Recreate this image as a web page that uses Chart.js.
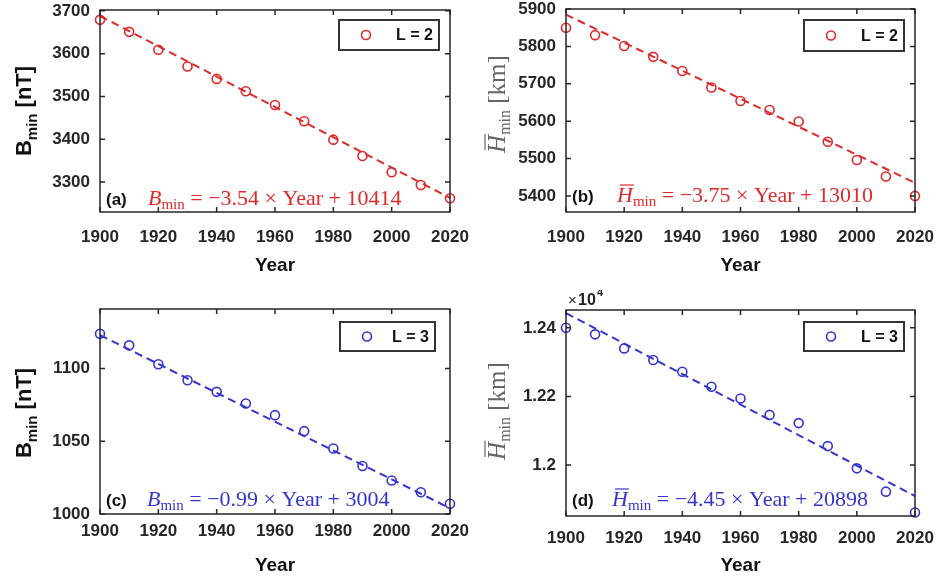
<!DOCTYPE html>
<html>
<head>
<meta charset="utf-8">
<script src="https://cdn.jsdelivr.net/npm/chart.js@4.4.1/dist/chart.umd.min.js"></script>
<style>
  body { margin: 0; background: #fff; }
  #wrap { position: relative; width: 941px; height: 581px; overflow: hidden; }
  canvas { position: absolute; }
</style>
</head>
<body>
<div id="wrap">
  <canvas id="chartA" width="470" height="290" style="left:0;top:0"></canvas>
  <canvas id="chartB" width="471" height="290" style="left:470px;top:0"></canvas>
  <canvas id="chartC" width="470" height="291" style="left:0;top:290px"></canvas>
  <canvas id="chartD" width="471" height="291" style="left:470px;top:290px"></canvas>
</div>
<script>
// data
const years = [1900, 1910, 1920, 1930, 1940, 1950, 1960, 1970, 1980, 1990, 2000, 2010, 2020];
const bminL2 = [3679, 3651, 3609, 3570, 3541, 3512, 3480, 3442, 3399, 3361, 3323, 3293, 3262];
const hminL2 = [5850, 5830, 5801, 5772, 5734, 5690, 5654, 5630, 5599, 5545, 5496, 5452, 5400];
const bminL3 = [1124, 1116, 1103, 1092, 1084, 1076, 1068, 1057, 1045, 1033, 1023, 1015, 1007];
const hminL3 = [12400, 12381, 12340, 12306, 12272, 12228, 12194, 12146, 12122, 12055, 11990, 11922, 11861];

// linear fits (end points)
const fitYears = [1900, 2020];
const fitBminL2 = [3688, 3263];
const fitHminL2 = [5885, 5435];
const fitBminL3 = [1123, 1004];
const fitHminL3 = [12443, 11909];

const xTicks = [1900, 1920, 1940, 1960, 1980, 2000, 2020];
const ticksA = [3300, 3400, 3500, 3600, 3700];
const ticksB = [5400, 5500, 5600, 5700, 5800, 5900];
const ticksC = [1000, 1050, 1100];
const ticksD = [12000, 12200, 12400];

const RED = '#e02828';
const BLUE = '#3434d0';
const INK = '#262626';
const SANS = '"Liberation Sans", Arial, sans-serif';
const SERIF = '"Liberation Serif", "Times New Roman", serif';

function drawRich(ctx, parts, x, y, align) {
  let w = 0;
  parts.forEach(p => { ctx.font = p.f; p.w = ctx.measureText(p.t).width; w += p.w; });
  let cx = align === 'center' ? x - w / 2 : x;
  ctx.textAlign = 'left';
  ctx.textBaseline = 'alphabetic';
  parts.forEach(p => {
    ctx.font = p.f;
    ctx.fillText(p.t, cx, y + (p.dy || 0));
    if (p.bar) {
      ctx.beginPath();
      ctx.moveTo(cx + 3, y - p.bar);
      ctx.lineTo(cx + p.w + 1, y - p.bar);
      ctx.stroke();
    }
    cx += p.w;
  });
}

function bTitle() {
  return [
    { t: 'B', f: 'bold 22px ' + SANS },
    { t: 'min', f: 'bold 15px ' + SANS, dy: 6 },
    { t: ' [nT]', f: 'bold 22px ' + SANS }
  ];
}
function hTitle() {
  return [
    { t: 'H', f: 'italic 25px ' + SERIF, bar: 20 },
    { t: 'min', f: '16px ' + SERIF, dy: 5 },
    { t: ' [km]', f: '25px ' + SERIF }
  ];
}
function eqn(sym, rest, bar) {
  return [
    { t: sym, f: 'italic 22px ' + SERIF, bar: bar ? 17 : 0 },
    { t: 'min', f: '15px ' + SERIF, dy: 4 },
    { t: rest, f: '22px ' + SERIF }
  ];
}

function makeDeco(o) {
  return {
    id: 'deco',
    afterDraw(chart) {
      const ctx = chart.ctx;
      const a = chart.chartArea;
      const xs = chart.scales.x, ys = chart.scales.y;
      ctx.save();
      // box + inward ticks
      ctx.strokeStyle = INK;
      ctx.lineWidth = 1.5;
      ctx.strokeRect(a.left, a.top, a.right - a.left, a.bottom - a.top);
      ctx.beginPath();
      xTicks.forEach(v => {
        const px = xs.getPixelForValue(v);
        ctx.moveTo(px, a.bottom); ctx.lineTo(px, a.bottom - 5);
        ctx.moveTo(px, a.top); ctx.lineTo(px, a.top + 5);
      });
      o.ticks.forEach(v => {
        const py = ys.getPixelForValue(v);
        ctx.moveTo(a.left, py); ctx.lineTo(a.left + 5, py);
        ctx.moveTo(a.right, py); ctx.lineTo(a.right - 5, py);
      });
      ctx.stroke();

      // legend
      const L = o.legendBox;
      ctx.fillStyle = '#fff';
      ctx.fillRect(L[0], L[1], L[2], L[3]);
      ctx.lineWidth = 2;
      ctx.strokeStyle = '#333';
      ctx.strokeRect(L[0], L[1], L[2], L[3]);
      ctx.beginPath();
      ctx.strokeStyle = o.color;
      ctx.lineWidth = 1.6;
      ctx.arc(L[0] + 27, L[1] + L[3] / 2, 4.5, 0, Math.PI * 2);
      ctx.stroke();
      ctx.fillStyle = '#111';
      ctx.font = 'bold 16px ' + SANS;
      ctx.textAlign = 'right';
      ctx.textBaseline = 'middle';
      ctx.fillText(o.legend, L[0] + L[2] - 6, L[1] + L[3] / 2 + 1);

      // panel letter + fit equation
      ctx.fillStyle = '#111';
      ctx.font = 'bold 17px ' + SANS;
      ctx.textAlign = 'left';
      ctx.textBaseline = 'alphabetic';
      ctx.fillText(o.letter, a.left + 6, o.eqY);
      ctx.fillStyle = o.color;
      ctx.strokeStyle = o.color;
      ctx.lineWidth = 1.2;
      drawRich(ctx, o.eqn, o.eqX, o.eqY, 'left');

      // x title
      ctx.fillStyle = '#111';
      ctx.font = 'bold 19px ' + SANS;
      ctx.textAlign = 'center';
      ctx.textBaseline = 'middle';
      ctx.fillText('Year', (a.left + a.right) / 2, o.yearY);

      // y title
      ctx.save();
      ctx.translate(o.yt[0], o.yt[1]);
      ctx.rotate(-Math.PI / 2);
      ctx.fillStyle = o.ytColor;
      ctx.strokeStyle = o.ytColor;
      ctx.lineWidth = 1.2;
      drawRich(ctx, o.ytParts, 0, 0, 'center');
      ctx.restore();

      // exponent label
      if (o.exp) {
        ctx.fillStyle = '#222';
        ctx.textAlign = 'left';
        ctx.textBaseline = 'alphabetic';
        ctx.font = '15px ' + SANS;
        ctx.fillText('\u00d7', o.exp[0], o.exp[1]);
        ctx.font = 'bold 16px ' + SANS;
        ctx.fillText('10', o.exp[0] + 10, o.exp[1]);
        ctx.font = 'bold 11px ' + SANS;
        ctx.fillText('4', o.exp[0] + 29, o.exp[1] - 9);
      }
      ctx.restore();
    }
  };
}

function makePanel(id, o) {
  const pts = years.map((yr, i) => ({ x: yr, y: o.values[i] }));
  const fit = fitYears.map((yr, i) => ({ x: yr, y: o.fit[i] }));
  return new Chart(document.getElementById(id), {
    type: 'line',
    data: {
      datasets: [
        { label: o.legend, data: pts, showLine: false, borderColor: o.color, backgroundColor: 'rgba(0,0,0,0)',
          pointRadius: 4.5, pointBorderWidth: 1.6, pointBackgroundColor: 'rgba(0,0,0,0)', clip: false },
        { label: 'fit', data: fit, borderColor: o.color, borderWidth: 2, borderDash: [8, 5],
          pointRadius: 0, fill: false, clip: false }
      ]
    },
    options: {
      responsive: false,
      animation: false,
      layout: { padding: { top: o.area.top, right: o.area.right, left: 0, bottom: 0 } },
      plugins: { legend: { display: false }, tooltip: { enabled: false } },
      scales: {
        x: {
          type: 'linear', min: 1900, max: 2020,
          grid: { display: false, drawTicks: false }, border: { display: false },
          afterBuildTicks: s => { s.ticks = xTicks.map(v => ({ value: v })); },
          afterFit: s => { s.height = o.area.bottom; s.paddingLeft = 0; s.paddingRight = 0; },
          ticks: { padding: o.xPad, color: INK, autoSkip: false, maxRotation: 0,
                   font: { family: SANS, weight: 'bold', size: 17 },
                   callback: v => String(v) }
        },
        y: {
          min: o.min, max: o.max,
          grid: { display: false, drawTicks: false }, border: { display: false },
          afterBuildTicks: s => { s.ticks = o.ticks.map(v => ({ value: v })); },
          afterFit: s => { s.width = o.area.left; s.paddingTop = 0; s.paddingBottom = 0; },
          ticks: { padding: 10, color: INK,
                   font: { family: SANS, weight: 'bold', size: 17 },
                   callback: o.fmt || (v => String(v)) }
        }
      }
    },
    plugins: [makeDeco(o)]
  });
}

makePanel('chartA', {
  values: bminL2, fit: fitBminL2, ticks: ticksA, min: 3230, max: 3702, color: RED, legend: 'L = 2',
  area: { left: 100, right: 20, top: 10, bottom: 78 }, xPad: 15,
  legendBox: [339, 20, 100, 30], letter: '(a)', eqX: 148, eqY: 205,
  eqn: eqn('B', ' = \u22123.54 \u00d7 Year + 10414', false),
  yearY: 266, yt: [31, 111], ytParts: bTitle(), ytColor: '#111'
});
makePanel('chartB', {
  values: hminL2, fit: fitHminL2, ticks: ticksB, min: 5357, max: 5900, color: RED, legend: 'L = 2',
  area: { left: 96, right: 26, top: 9, bottom: 78 }, xPad: 15,
  legendBox: [334, 20, 100, 31], letter: '(b)', eqX: 147, eqY: 202,
  eqn: eqn('H', ' = \u22123.75 \u00d7 Year + 13010', true),
  yearY: 266, yt: [35, 104], ytParts: hTitle(), ytColor: '#666'
});
makePanel('chartC', {
  values: bminL3, fit: fitBminL3, ticks: ticksC, min: 1000, max: 1141, color: BLUE, legend: 'L = 3',
  area: { left: 100, right: 20, top: 19, bottom: 67 }, xPad: 7,
  legendBox: [340, 32, 95, 29], letter: '(c)', eqX: 147, eqY: 216,
  eqn: eqn('B', ' = \u22120.99 \u00d7 Year + 3004', false),
  yearY: 276, yt: [31, 123], ytParts: bTitle(), ytColor: '#111'
});
makePanel('chartD', {
  values: hminL3, fit: fitHminL3, ticks: ticksD, min: 11851, max: 12452, color: BLUE, legend: 'L = 3',
  area: { left: 96, right: 26, top: 20, bottom: 65 }, xPad: 12,
  legendBox: [334, 32, 100, 29], letter: '(d)', eqX: 142, eqY: 216,
  eqn: eqn('H', ' = \u22124.45 \u00d7 Year + 20898', true),
  yearY: 276, yt: [35, 121], ytParts: hTitle(), ytColor: '#666',
  fmt: v => String(v / 10000), exp: [98, 15]
});
</script>
</body>
</html>
